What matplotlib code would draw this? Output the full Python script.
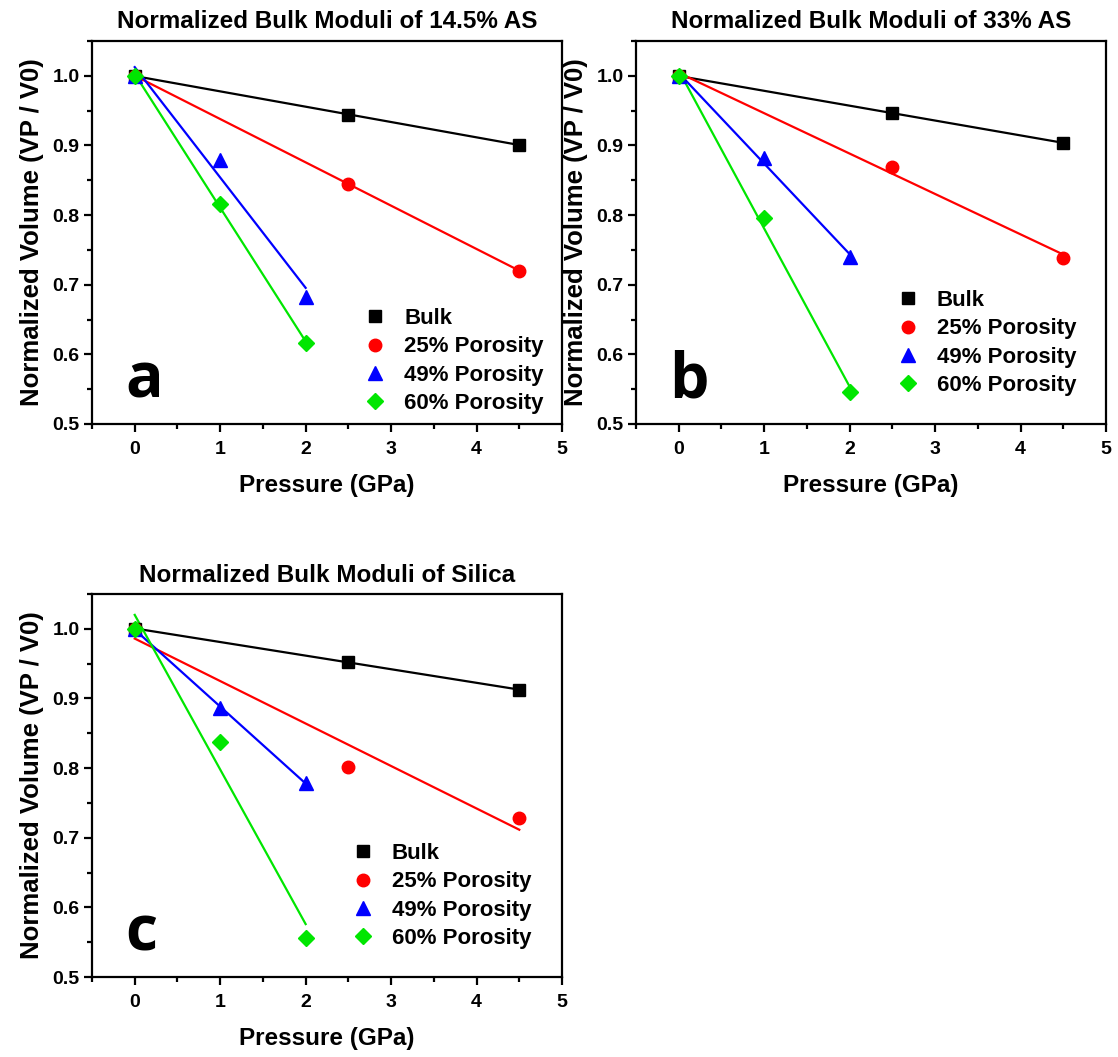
import numpy as np
import matplotlib
matplotlib.use("Agg")
import matplotlib.pyplot as plt
from matplotlib.ticker import MultipleLocator

plt.rcParams['font.family'] = ['Liberation Sans', 'DejaVu Sans']
plt.rcParams['font.weight'] = 'bold'

# ---------------- data ----------------
series_labels = ["Bulk", "25% Porosity", "49% Porosity", "60% Porosity"]
x_long = [0, 2.5, 4.5]
x_short = [0, 1, 2]

# panel a: 14.5% AS
a_bulk = [1.0, 0.944, 0.901]
a_p25 = [1.0, 0.845, 0.720]
a_p49 = [1.0, 0.879, 0.683]
a_p60 = [1.0, 0.816, 0.616]

# panel b: 33% AS
b_bulk = [1.0, 0.946, 0.904]
b_p25 = [1.0, 0.869, 0.738]
b_p49 = [1.0, 0.882, 0.740]
b_p60 = [1.0, 0.796, 0.546]

# panel c: Silica
c_bulk = [1.0, 0.953, 0.912]
c_p25 = [1.0, 0.802, 0.729]
c_p49 = [1.0, 0.886, 0.779]
c_p60 = [1.0, 0.838, 0.556]

titles = ["Normalized Bulk Moduli of 14.5% AS",
          "Normalized Bulk Moduli of 33% AS",
          "Normalized Bulk Moduli of Silica"]
letters = ["a", "b", "c"]
xticks = [0, 1, 2, 3, 4, 5]
yticks = [0.5, 0.6, 0.7, 0.8, 0.9, 1.0]

colors = ["#000000", "#FF0000", "#0000FF", "#00E600"]
markers = ["s", "o", "^", "D"]
msizes = [8, 9, 9.5, 8]

W, H = 1118, 1057
fig = plt.figure(figsize=(W / 100, H / 100), dpi=100)


def ax_rect(left_px, top_px, right_px, bottom_px):
    return [left_px / W, 1 - bottom_px / H, (right_px - left_px) / W, (bottom_px - top_px) / H]


panels = [
    (ax_rect(92, 41, 562, 424), [a_bulk, a_p25, a_p49, a_p60], (0.579, 0.303)),
    (ax_rect(636, 41, 1106, 424), [b_bulk, b_p25, b_p49, b_p60], (0.555, 0.350)),
    (ax_rect(92, 594, 562, 977), [c_bulk, c_p25, c_p49, c_p60], (0.553, 0.350)),
]

for i, (rect, ys, leg_anchor) in enumerate(panels):
    ax = fig.add_axes(rect)
    handles = []
    for j, y in enumerate(ys):
        xs = x_long if j < 2 else x_short
        coef = np.polyfit(xs, y, 1)
        xf = np.array([xs[0], xs[-1]])
        ax.plot(xf, np.polyval(coef, xf), color=colors[j], lw=1.6, zorder=2)
        h, = ax.plot(xs, y, linestyle="none", marker=markers[j], ms=msizes[j],
                     color=colors[j], mec=colors[j], zorder=3, label=series_labels[j])
        handles.append(h)
    ax.set_xlim(-0.5, 5)
    ax.set_ylim(0.5, 1.05)
    ax.set_xticks(xticks)
    ax.set_yticks(yticks)
    ax.set_yticklabels([f"{v:.1f}" for v in yticks])
    ax.xaxis.set_minor_locator(MultipleLocator(0.5))
    ax.yaxis.set_minor_locator(MultipleLocator(0.05))
    ax.tick_params(which="major", direction="out", length=6, width=1.6, labelsize=14, pad=3)
    ax.tick_params(which="minor", direction="out", length=3.5, width=1.6)
    ax.tick_params(axis="x", which="major", pad=6)
    for sp in ax.spines.values():
        sp.set_linewidth(1.6)
    for lab in ax.get_xticklabels() + ax.get_yticklabels():
        lab.set_fontweight("bold")
    ax.set_xlabel("Pressure (GPa)", fontsize=17.5, fontweight="bold", labelpad=12)
    ax.set_ylabel("Normalized Volume (VP / V0)", fontsize=18.5, fontweight="bold", labelpad=6)
    ax.set_title(titles[i], fontsize=17.5, fontweight="bold", pad=9)
    ax.legend(handles=handles, loc="upper left", bbox_to_anchor=leg_anchor, frameon=False,
              prop={"weight": "bold", "size": 16}, handlelength=1.0, handletextpad=0.8,
              labelspacing=0.33, borderpad=0, borderaxespad=0)
    ax.text(0.07, 0.068, letters[i], transform=ax.transAxes, fontsize=45,
            fontweight="bold", family="Open Sans", ha="left", va="baseline")

fig.savefig("out.png", dpi=100)
